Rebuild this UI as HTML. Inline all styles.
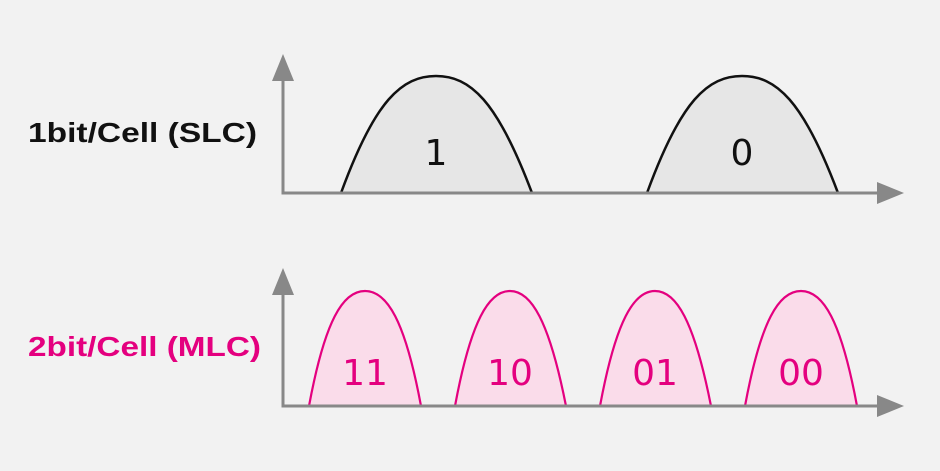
<!DOCTYPE html>
<html><head><style>
html,body{margin:0;padding:0;background:#f2f2f2;}
svg{display:block;}
</style></head><body>
<svg width="940" height="471" viewBox="0 0 940 471" xmlns="http://www.w3.org/2000/svg">
<rect width="940" height="471" fill="#f2f2f2"/>
<g font-family="Liberation Sans, DejaVu Sans, sans-serif">
<text x="28" y="142" font-size="28" font-weight="bold" fill="#111" textLength="229" lengthAdjust="spacingAndGlyphs">1bit/Cell (SLC)</text>
<text x="28" y="356" font-size="28" font-weight="bold" fill="#e4007f" textLength="233" lengthAdjust="spacingAndGlyphs">2bit/Cell (MLC)</text>
</g>
<g stroke="#111" stroke-width="2.5" fill="#e6e6e6">
<path d="M341,193 C375,100 402,76 436,76 C470,76 497,100 532,193"/>
<path d="M647,193 C681,100 708,76 742,76 C776,76 803,100 838,193"/>
</g>
<g stroke="#e4007f" stroke-width="2.2" fill="#fadcea">
<path d="M309,406 C325,320 343,291 365,291 C387,291 405,320 421,406"/>
<path d="M455,406 C471,320 489,291 510,291 C531,291 549,320 566,406"/>
<path d="M600,406 C616,320 634,291 655,291 C676,291 694,320 711,406"/>
<path d="M745,406 C761,320 779,291 801,291 C823,291 841,320 857,406"/>
</g>
<g stroke="#888" stroke-width="3" fill="none">
<path d="M283,80 V193 H880"/>
<path d="M283,295 V406 H880"/>
</g>
<g fill="#888">
<polygon points="283,54 272,81 294,81"/>
<polygon points="904,193 877,182 877,204"/>
<polygon points="283,268 272,295 294,295"/>
<polygon points="904,406 877,395 877,417"/>
</g>
<g font-family="DejaVu Sans, Liberation Sans, sans-serif" font-size="36" text-anchor="middle">
<text x="436" y="165" fill="#111">1</text>
<text x="742" y="165" fill="#111">0</text>
<text x="365" y="385" fill="#e4007f">11</text>
<text x="510" y="385" fill="#e4007f">10</text>
<text x="655" y="385" fill="#e4007f">01</text>
<text x="801" y="385" fill="#e4007f">00</text>
</g>
</svg>
</body></html>
